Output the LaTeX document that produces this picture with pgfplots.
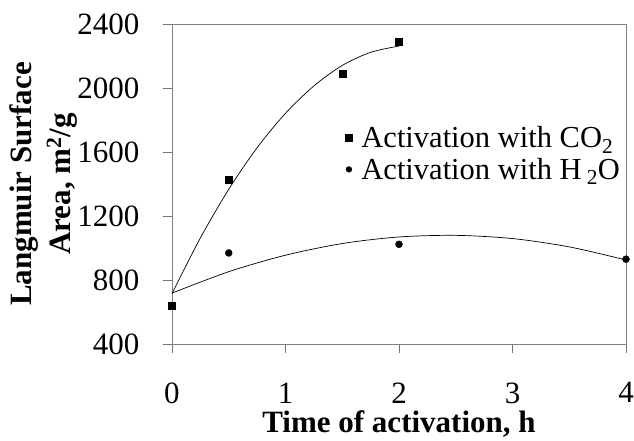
\documentclass[border=0pt]{standalone}
\usepackage{fontspec}
\setmainfont{Liberation Serif}
\usepackage{pgfplots}
\pgfplotsset{compat=1.18}
\pgfplotsset{
  marklegend/.style={legend image code/.code={\draw[mark repeat=2,mark phase=2,##1] plot coordinates {(0pt,0pt)(5pt,0pt)(10pt,0pt)};}},
  dotlegend/.style={legend image code/.code={\draw[mark repeat=2,mark phase=2,##1,mark size=2.9pt] plot coordinates {(0pt,0pt)(5pt,0pt)(10pt,0pt)};}},
}

\begin{document}
\begin{tikzpicture}
\begin{axis}[
  scale only axis,
  width=454pt, height=320pt,
  xmin=0, xmax=4, ymin=400, ymax=2400,
  xtick={0,1,2,3,4},
  ytick={400,800,1200,1600,2000,2400},
  xtick pos=bottom, ytick pos=left,
  tick align=outside,
  major tick length=9pt,
  tick style={black!55, line width=0.8pt},
  axis line style={black!50, line width=0.9pt},
  /pgf/number format/assume math mode=true,
  /pgf/number format/1000 sep={},
  ticklabel style={font=\fontsize{31}{31}\selectfont},
  xticklabel shift=26pt,
  yticklabel style={xshift=-20pt},
  xlabel={\textbf{Time of activation, h}},
  ylabel={\textbf{Langmuir Surface}\\\textbf{Area, m\textsuperscript{2}/g}},
  label style={font=\fontsize{31}{39}\selectfont},
  xlabel style={at={(rel axis cs:0.5,0)}, anchor=base, yshift=-88pt},
  ylabel style={align=center, at={(rel axis cs:-0.209,0.5)}, anchor=south, inner sep=0pt},
  legend style={draw=none, fill=none, at={(0.375,0.69)}, anchor=north west,
    font=\fontsize{30.5}{30.5}\selectfont, row sep=7pt,
    nodes={inner sep=1pt},
    /tikz/every odd column/.append style={column sep=8pt}},
  legend cell align=left,
]
% trend lines
\addplot[black, line width=0.7pt, smooth, forget plot] coordinates {
  (0,715) (0.25,1063) (0.5,1367) (0.75,1627) (1,1842)
  (1.25,2013) (1.5,2141) (1.75,2223) (2,2262)
};
\addplot[black, line width=0.7pt, smooth, forget plot] coordinates {
  (0,718) (0.5,852) (1,955) (1.5,1028) (2,1069)
  (2.5,1079) (3,1059) (3.5,1007) (4,925)
};
% measured points
\addplot[only marks, mark=square*, mark size=3.5pt, black, marklegend] coordinates {
  (0,640) (0.5,1430) (1.5,2092) (2,2292)
};
\addplot[only marks, mark=*, mark size=3.5pt, black, dotlegend] coordinates {
  (0,640) (0.5,969) (2,1023) (4,930)
};
\legend{Activation with CO\textsubscript{2}, Activation with H\,\textsubscript{2}O}
\end{axis}
\pgfresetboundingbox
\path[use as bounding box] (-172pt,-96pt) rectangle (462pt,344pt);
\end{tikzpicture}
\end{document}
